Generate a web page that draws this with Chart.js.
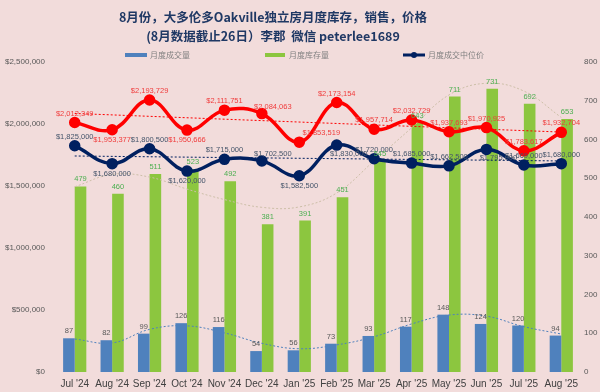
<!DOCTYPE html>
<html>
<head>
<meta charset="utf-8">
<script src="https://cdn.jsdelivr.net/npm/chart.js"></script>
<style>
  html, body { margin: 0; padding: 0; background: #F2DCDB; }
  #wrap { width: 600px; height: 392px; }
</style>
</head>
<body>
<div id="wrap"><canvas id="chart"></canvas></div>
<script>
const months = ["Jul '24", "Aug '24", "Sep '24", "Oct '24", "Nov '24", "Dec '24", "Jan '25",
                "Feb '25", "Mar '25", "Apr '25", "May '25", "Jun '25", "Jul '25", "Aug '25"];

// 月度成交量 (right axis)
const salesCount = [87, 82, 99, 126, 116, 54, 56, 73, 93, 117, 148, 124, 120, 94];
// 月度库存量 (right axis)
const inventory = [479, 460, 511, 523, 492, 381, 391, 451, 545, 643, 711, 731, 692, 653];
// average price, red line (left axis)
const avgPrice = [2012349, 1953377, 2193729, 1950666, 2111751, 2084063, 1853519,
                  2173154, 1957714, 2032729, 1937693, 1970925, 1783617, 1932704];
// 月度成交中位价 (left axis)
const medianPrice = [1825000, 1680000, 1800500, 1620000, 1715000, 1702500, 1582500,
                     1830000, 1720000, 1685000, 1662500, 1795000, 1669000, 1680000];

// dotted trend lines
const salesTrend = [85, 75, 110, 119, 101, 74, 60, 70, 91, 124, 147, 144, 117, 98];
const inventoryTrend = [478, 510, 503, 472, 445, 425, 426, 462, 545, 630, 715, 745, 725, 657];
const avgTrendEnds = [2085000, 1935000];
const medianTrendEnds = [1742000, 1702000];

const leftTicks = [0, 500000, 1000000, 1500000, 2000000, 2500000];
const rightTicks = [0, 100, 200, 300, 400, 500, 600, 700, 800];

// where each price label sits relative to its point
const avgLabelPos = ['a', 'b', 'a', 'b', 'a', 'ar', 'r', 'a', 'a', 'a', 'a', 'a', 'a', 'a'];
const medianLabelPos = ['a', 'b', 'a', 'b', 'a', 'ar', 'b', 'br', 'a', 'a', 'a', 'br', 'a', 'a'];

const offsets = {
  a: [0, -9], b: [0, 10], ar: [11, -7], br: [12, 9], r: [22, -9], bar: [0, -7]
};

const money = v => '$' + v.toLocaleString('en-US');
const LABEL_FONT = '7.5px "Liberation Sans", sans-serif';

const valueLabels = {
  id: 'valueLabels',
  afterDatasetsDraw(chart) {
    const ctx = chart.ctx;
    chart.data.datasets.forEach((ds, i) => {
      if (!ds.labelColor) return;
      const meta = chart.getDatasetMeta(i);
      ctx.save();
      ctx.font = LABEL_FONT;
      ctx.fillStyle = ds.labelColor;
      ctx.textAlign = 'center';
      ctx.textBaseline = 'middle';
      meta.data.forEach((el, j) => {
        const pos = ds.labelPos ? ds.labelPos[j] : 'bar';
        const off = offsets[pos];
        const txt = ds.money ? money(ds.data[j]) : String(ds.data[j]);
        ctx.fillText(txt, el.x + off[0], el.y + off[1]);
      });
      ctx.restore();
    });
  }
};

const header = {
  id: 'header',
  beforeDraw(chart) {
    const ctx = chart.ctx;
    ctx.save();
    ctx.fillStyle = '#F2DCDB';
    ctx.fillRect(0, 0, chart.width, chart.height);
    ctx.restore();
  },
  afterDraw(chart) {
    const ctx = chart.ctx;
    ctx.save();
    ctx.fillStyle = '#1F3864';
    ctx.textAlign = 'center';
    ctx.textBaseline = 'middle';
    ctx.font = 'bold 12.5px "Noto Sans CJK SC", sans-serif';
    ctx.fillText('8月份，大多伦多Oakville独立房月度库存，销售，价格', 273, 17);
    ctx.fillText('(8月数据截止26日）李郡  微信 peterlee1689', 273, 36);

    // legend
    ctx.font = '8px "Noto Sans CJK SC", sans-serif';
    ctx.textAlign = 'left';
    ctx.fillStyle = '#4F81BD';
    ctx.fillRect(125, 53, 22, 4);
    ctx.fillStyle = '#8CC63F';
    ctx.fillRect(265, 53, 20, 4);
    ctx.strokeStyle = '#002060';
    ctx.lineWidth = 3;
    ctx.beginPath();
    ctx.moveTo(403, 55); ctx.lineTo(425, 55);
    ctx.stroke();
    ctx.fillStyle = '#002060';
    ctx.beginPath();
    ctx.arc(414, 55, 3, 0, Math.PI * 2);
    ctx.fill();
    ctx.fillStyle = '#808080';
    ctx.fillText('月度成交量', 150, 55);
    ctx.fillText('月度库存量', 289, 55);
    ctx.fillText('月度成交中位价', 428, 55);
    ctx.restore();
  }
};

const ctx = document.getElementById('chart');

new Chart(ctx, {
  type: 'bar',
  data: {
    labels: months,
    datasets: [
      {
        type: 'line', label: '月度成交中位价', data: medianPrice, yAxisID: 'y',
        borderColor: '#002060', backgroundColor: '#002060', borderWidth: 3.5,
        pointRadius: 4, pointBackgroundColor: '#002060', tension: 0.4, order: 1,
        labelColor: '#44546A', labelPos: medianLabelPos, money: true
      },
      {
        type: 'line', label: '平均价', data: avgPrice, yAxisID: 'y',
        borderColor: '#FF0000', backgroundColor: '#FF0000', borderWidth: 3.5,
        pointRadius: 4, pointBackgroundColor: '#FF0000', tension: 0.4, order: 2,
        labelColor: '#F03C3C', labelPos: avgLabelPos, money: true
      },
      {
        type: 'line', label: 'avg trend', yAxisID: 'y',
        data: [{ x: months[0], y: avgTrendEnds[0] }, { x: months[months.length - 1], y: avgTrendEnds[1] }],
        borderColor: '#FF0000', borderWidth: 1, borderDash: [2, 2], pointRadius: 0, order: 3
      },
      {
        type: 'line', label: 'median trend', yAxisID: 'y',
        data: [{ x: months[0], y: medianTrendEnds[0] }, { x: months[months.length - 1], y: medianTrendEnds[1] }],
        borderColor: '#002060', borderWidth: 1, borderDash: [2, 2], pointRadius: 0, order: 3
      },
      {
        type: 'line', label: 'sales trend', data: salesTrend, yAxisID: 'y1',
        borderColor: '#4F81BD', borderWidth: 1, borderDash: [2, 2], pointRadius: 0,
        tension: 0.4, order: 3
      },
      {
        type: 'line', label: 'inventory trend', data: inventoryTrend, yAxisID: 'y1',
        borderColor: '#CDBFA8', borderWidth: 1, borderDash: [2, 2], pointRadius: 0,
        tension: 0.4, order: 3
      },
      {
        label: '月度成交量', data: salesCount, yAxisID: 'y1',
        backgroundColor: '#4F81BD', order: 5,
        categoryPercentage: 0.62, barPercentage: 1.0,
        labelColor: '#595959'
      },
      {
        label: '月度库存量', data: inventory, yAxisID: 'y1',
        backgroundColor: '#8CC63F', order: 5,
        categoryPercentage: 0.62, barPercentage: 1.0,
        labelColor: '#4CAF50'
      }
    ]
  },
  options: {
    responsive: true,
    maintainAspectRatio: false,
    animation: false,
    layout: { padding: { top: 62, left: 0, right: 0, bottom: 0 } },
    plugins: {
      legend: { display: false },
      title: { display: false },
      tooltip: { enabled: false }
    },
    scales: {
      x: {
        grid: { display: false, drawTicks: false },
        border: { display: false },
        ticks: {
          color: '#404040', padding: 6, maxRotation: 0, autoSkip: false,
          font: { size: 10, family: '"Liberation Sans", sans-serif' }
        },
        afterFit: s => { s.height = 20; }
      },
      y: {
        position: 'left', min: 0, max: 2500000,
        grid: { display: false, drawTicks: false },
        border: { display: false },
        afterBuildTicks: s => { s.ticks = leftTicks.map(v => ({ value: v })); },
        ticks: {
          color: '#595959', padding: 11,
          font: { size: 8, family: '"Liberation Sans", sans-serif' },
          callback: v => money(v)
        },
        afterFit: s => { s.width = 56; }
      },
      y1: {
        position: 'right', min: 0, max: 800,
        grid: { display: false, drawTicks: false },
        border: { display: false },
        afterBuildTicks: s => { s.ticks = rightTicks.map(v => ({ value: v })); },
        ticks: {
          color: '#595959', padding: 4,
          font: { size: 8, family: '"Liberation Sans", sans-serif' }
        },
        afterFit: s => { s.width = 20; }
      }
    }
  },
  plugins: [header, valueLabels]
});
</script>
</body>
</html>
